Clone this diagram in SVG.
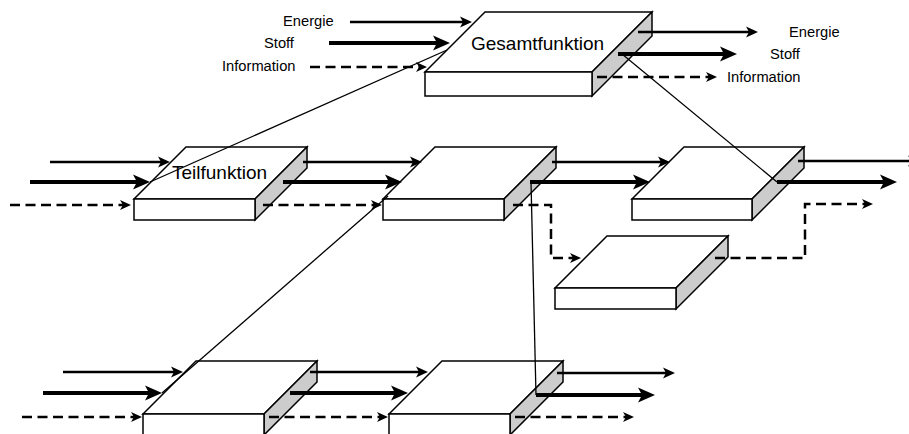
<svg xmlns="http://www.w3.org/2000/svg" width="909" height="434" viewBox="0 0 909 434">
<style>
.face{fill:#ffffff;stroke:#000;stroke-width:1.5;stroke-linejoin:miter}
.side{fill:#cccccc;stroke:#000;stroke-width:1.5}
.e{fill:none;stroke:#000;stroke-width:2.5;marker-end:url(#hE)}
.s{fill:none;stroke:#000;stroke-width:4;marker-end:url(#hS)}
.i{fill:none;stroke:#000;stroke-width:2.5;stroke-dasharray:10 5.5;marker-end:url(#hI)}
.thin{fill:none;stroke:#000;stroke-width:1.3}
.lbl{font-family:"Liberation Sans",Arial,sans-serif;font-size:14.7px;fill:#000}
.big{font-family:"Liberation Sans",Arial,sans-serif;font-size:19px;fill:#000}
</style>
<defs>
<marker id="hE" markerUnits="userSpaceOnUse" markerWidth="30" markerHeight="30" refX="0" refY="0" orient="auto" overflow="visible" viewBox="-15 -15 30 30"><path d="M6,0 L-6,-5.5 L-3,0 L-6,5.5 Z" fill="#000"/></marker>
<marker id="hS" markerUnits="userSpaceOnUse" markerWidth="30" markerHeight="30" refX="0" refY="0" orient="auto" overflow="visible" viewBox="-15 -15 30 30"><path d="M8,0 L-9,-7.5 L-5,0 L-9,7.5 Z" fill="#000"/></marker>
<marker id="hI" markerUnits="userSpaceOnUse" markerWidth="30" markerHeight="30" refX="0" refY="0" orient="auto" overflow="visible" viewBox="-15 -15 30 30"><path d="M5,0 L-6,-5 L-3,0 L-6,5 Z" fill="#000"/></marker>
</defs>

<g id="gesamtfunktion">
<polygon class="face" points="425,72 485,12 652,12 592,72"/>
<polygon class="side" points="592,72 652,12 652,36 592,96"/>
<rect class="face" x="425" y="72" width="167" height="24"/>
<text class="big" x="471" y="50">Gesamtfunktion</text>
</g>
<g id="teilfunktion1">
<polygon class="face" points="134,199 186,147 307,147 255,199"/>
<polygon class="side" points="255,199 307,147 307,168 255,220"/>
<rect class="face" x="134" y="199" width="121" height="21"/>
<text class="big" x="172" y="179">Teilfunktion</text>
</g>
<g id="teilfunktion2">
<polygon class="face" points="383,199 435,147 556,147 504,199"/>
<polygon class="side" points="504,199 556,147 556,168 504,220"/>
<rect class="face" x="383" y="199" width="121" height="21"/>
</g>
<g id="teilfunktion3">
<polygon class="face" points="632,199 684,147 804,147 752,199"/>
<polygon class="side" points="752,199 804,147 804,168 752,220"/>
<rect class="face" x="632" y="199" width="120" height="21"/>
</g>
<g id="teilfunktion4">
<polygon class="face" points="555,288 607,236 728,236 676,288"/>
<polygon class="side" points="676,288 728,236 728,257 676,309"/>
<rect class="face" x="555" y="288" width="121" height="21"/>
</g>
<g id="teilfunktion5">
<polygon class="face" points="143,414 196,361 317,361 264,414"/>
<polygon class="side" points="264,414 317,361 317,382 264,435"/>
<rect class="face" x="143" y="414" width="121" height="21"/>
</g>
<g id="teilfunktion6">
<polygon class="face" points="389,414 442,361 563,361 510,414"/>
<polygon class="side" points="510,414 563,361 563,382 510,435"/>
<rect class="face" x="389" y="414" width="121" height="21"/>
</g>

<g id="labels">
<text class="lbl" x="283" y="26">Energie</text>
<text class="lbl" x="264" y="48">Stoff</text>
<text class="lbl" x="222" y="71">Information</text>
<text class="lbl" x="789" y="37">Energie</text>
<text class="lbl" x="770" y="59">Stoff</text>
<text class="lbl" x="727" y="82">Information</text>
</g>

<g id="connectors">
<path class="e" d="M350,22 H466"/>
<path class="s" d="M329,43 H442"/>
<path class="i" d="M310,67 H422"/>
<path class="e" d="M638,32 H752"/>
<path class="s" d="M618,54 H729"/>
<path class="i" d="M597,77 H712"/>
<path class="e" d="M50,162 H164"/>
<path class="s" d="M30,182 H142"/>
<path class="i" d="M10,205 H126"/>
<path class="e" d="M303,162 H416"/>
<path class="s" d="M283,182 H394"/>
<path class="i" d="M263,205 H377"/>
<path class="e" d="M552,162 H664"/>
<path class="s" d="M530,182 H642"/>
<path class="i" d="M513,205 H551 V258 H576"/>
<path class="e" d="M798,161 H914"/>
<path class="s" d="M777,182 H889"/>
<path class="i" d="M715,258 H805 V204 H868"/>
<path class="e" d="M63,372 H177"/>
<path class="s" d="M43,393 H154"/>
<path class="i" d="M22,417 H137"/>
<path class="e" d="M310,372 H422"/>
<path class="s" d="M290,393 H400"/>
<path class="i" d="M269,417 H383"/>
<path class="e" d="M557,373 H669"/>
<path class="s" d="M536,395 H647"/>
<path class="i" d="M515,417 H629"/>
<line class="thin" x1="447" y1="50" x2="150" y2="182"/>
<line class="thin" x1="622" y1="54" x2="777" y2="182"/>
<line class="thin" x1="388" y1="196" x2="162" y2="393"/>
<line class="thin" x1="531" y1="182" x2="536" y2="395"/>
</g>
</svg>
